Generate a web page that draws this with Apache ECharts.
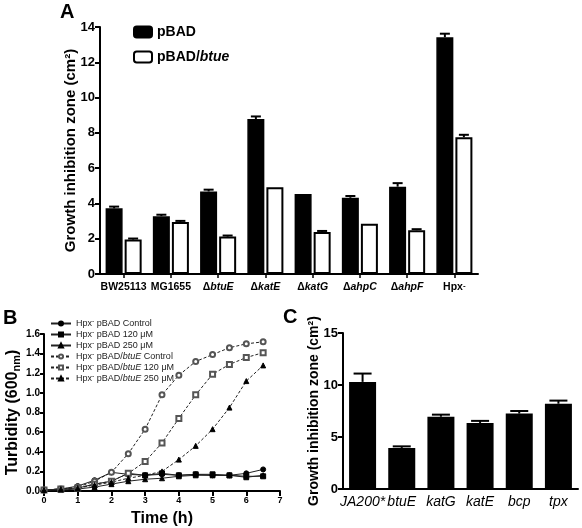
<!DOCTYPE html>
<html><head><meta charset="utf-8">
<script src="https://cdn.jsdelivr.net/npm/echarts@6/dist/echarts.min.js"></script>
<style>html,body{margin:0;padding:0;background:#fff}#c{width:582px;height:528px}</style>
</head><body><div id="c"></div>
<script>
// Panel A data
const catsA = ['BW25113','MG1655','ΔbtuE','ΔkatE','ΔkatG','ΔahpC','ΔahpF','Hpx-'];
const pBAD = [3.72, 3.28, 4.68, 8.78, 4.53, 4.32, 4.95, 13.42];
const pBADerr = [0.1, 0.08, 0.1, 0.15, 0, 0.1, 0.2, 0.2];
const pBADbtue = [1.95, 2.95, 2.12, 4.92, 2.38, 2.85, 2.48, 7.75];
const pBADbtueErr = [0.06, 0.06, 0.06, 0, 0.06, 0, 0.06, 0.14];
const ticksA = [0,2,4,6,8,10,12,14];
// Panel B data
const timeB = [0,0.5,1,1.5,2,2.5,3,3.5,4,4.5,5,5.5,6,6.5];
const ctrl = [0.01,0.02,0.05,0.11,0.19,0.17,0.16,0.17,0.16,0.17,0.16,0.16,0.18,0.22];
const c120 = [0.01,0.02,0.03,0.07,0.10,0.18,0.16,0.18,0.16,0.17,0.17,0.16,0.15,0.15];
const c250 = [0.01,0.01,0.02,0.04,0.07,0.10,0.12,0.13,0.15,0.16,0.16,0.16,0.14,0.16];
const bCtrl = [0.01,0.02,0.04,0.10,0.19,0.38,0.63,0.98,1.18,1.32,1.39,1.46,1.50,1.52];
const b120 = [0.01,0.02,0.03,0.07,0.10,0.18,0.30,0.49,0.74,0.98,1.19,1.29,1.36,1.41];
const b250 = [0.01,0.02,0.03,0.06,0.09,0.13,0.16,0.20,0.32,0.46,0.63,0.85,1.12,1.28];
const namesB = ['Hpx⁻ pBAD Control','Hpx⁻ pBAD 120 μM','Hpx⁻ pBAD 250 μM','Hpx⁻ pBAD/btuE Control','Hpx⁻ pBAD/btuE 120 μM','Hpx⁻ pBAD/btuE 250 μM'];
// Panel C data
const catsC = ['JA200*','btuE','katG','katE','bcp','tpx'];
const valsC = [10.3, 3.95, 6.95, 6.35, 7.25, 8.2];
const errC = [0.8, 0.15, 0.2, 0.2, 0.25, 0.3];

const F = 'Liberation Sans, Arial, sans-serif';
const chart = echarts.init(document.getElementById('c'));

const BW_A = 17, GAP_A = 2, BW_C = 27;
function errItem(offset, cap) {
  return function(params, api) {
    const x = api.value(0), y = api.value(1), e = api.value(2);
    if (!e) return null;
    const p = api.coord([x, y]);
    const t = api.coord([x, y + e]);
    const cx = p[0] + offset;
    return {type:'group', children:[
      {type:'line', shape:{x1:cx, y1:p[1], x2:cx, y2:t[1]}, style:{stroke:'#000', lineWidth:2}},
      {type:'line', shape:{x1:cx-cap/2, y1:t[1], x2:cx+cap/2, y2:t[1]}, style:{stroke:'#000', lineWidth:2}}
    ]};
  };
}

function labA(v) {
  if (v.charAt(0) === 'Δ') return '{n|Δ}{i|' + v.slice(1) + '}';
  if (v === 'Hpx-') return '{n|Hpx}{s|-}';
  return '{n|' + v + '}';
}

const axisLine = {lineStyle:{color:'#000', width:2}};
const axisTick = {lineStyle:{color:'#000', width:2}, length:5};

const symB = ['circle','rect','triangle','emptyCircle','emptyRect','triangle'];
const dataB = [ctrl, c120, c250, bCtrl, b120, b250];

const seriesB = namesB.map((n, k) => ({
  name: n, type:'line', xAxisIndex:1, yAxisIndex:1,
  data: timeB.map((t, i) => [t, dataB[k][i]]),
  symbol: symB[k], symbolSize: 5,
  itemStyle: {color: k >= 3 && k < 5 ? '#555' : '#000', borderColor: k >= 3 && k < 5 ? '#555' : '#000', borderWidth: 1},
  lineStyle: {color:'#222', width:1, type: k >= 3 ? [3,2] : 'solid'},
  z: 3
}));

const option = {
  animation: false,
  textStyle: {fontFamily: F},
  graphic: [
    {type:'text', left:60, top:2, style:{text:'A', font:'bold 20px ' + F, fill:'#000'}},
    {type:'text', left:3, top:308, style:{text:'B', font:'bold 20px ' + F, fill:'#000'}},
    {type:'text', left:283, top:307, style:{text:'C', font:'bold 20px ' + F, fill:'#000'}}
  ],
  legend: [
    {left:128, top:20, orient:'vertical', itemWidth:18, itemHeight:11, itemGap:11,
     data:['pBAD','pBAD/btue'],
     formatter: n => n === 'pBAD' ? '{n|pBAD}' : '{n|pBAD/}{i|btue}',
     textStyle:{rich:{n:{fontFamily:F, fontWeight:'bold', fontSize:14, color:'#000'}, i:{fontFamily:F, fontWeight:'bold', fontStyle:'italic', fontSize:14, color:'#000'}}}},
    {left:45, top:313, orient:'vertical', itemWidth:20, itemHeight:5, itemGap:1,
     data: namesB,
     formatter: n => {
       const m = n.replace('Hpx⁻', '');
       if (m.indexOf('btuE') >= 0) {
         const parts = m.split('btuE');
         return '{n|Hpx}{s|-}{n|' + parts[0] + '}{i|btuE}{n|' + parts[1] + '}';
       }
       return '{n|Hpx}{s|-}{n|' + m + '}';
     },
     textStyle:{rich:{n:{fontFamily:F, fontSize:9, color:'#222', lineHeight:11}, i:{fontFamily:F, fontStyle:'italic', fontSize:9, color:'#222', lineHeight:11}, s:{fontFamily:F, fontSize:7, color:'#222', verticalAlign:'top', lineHeight:11}}}}
  ],
  grid: [
    {left:100, top:27, width:378, height:247},
    {left:44, top:334, width:236, height:157},
    {left:343, top:333, width:235, height:156}
  ],
  xAxis: [
    {type:'category', gridIndex:0, data:catsA, axisLine:axisLine,
     axisTick:{show:true, alignWithLabel:true, length:4, lineStyle:{color:'#000', width:1.5}},
     axisLabel:{margin:8, interval:0, formatter: labA, rich:{
       n:{fontFamily:F, fontWeight:'bold', fontSize:10.5, color:'#000'},
       i:{fontFamily:F, fontWeight:'bold', fontStyle:'italic', fontSize:10.5, color:'#000'},
       s:{fontFamily:F, fontWeight:'bold', fontSize:8, color:'#000', verticalAlign:'top'}}}},
    {type:'value', gridIndex:1, min:0, max:7, interval:1, axisLine:axisLine, axisTick:axisTick,
     splitLine:{show:false}, axisLabel:{fontFamily:F, fontWeight:'bold', fontSize:9, color:'#000', margin:5},
     name:'Time (h)', nameLocation:'middle', nameGap:20, nameMoveOverlap:false,
     nameTextStyle:{fontFamily:F, fontWeight:'bold', fontSize:16, color:'#000', verticalAlign:'top'}},
    {type:'category', gridIndex:2, data:catsC, axisLine:axisLine, axisTick:{show:false},
     axisLabel:{fontFamily:F, fontStyle:'italic', fontSize:14, color:'#000', margin:6, interval:0}}
  ],
  yAxis: [
    {type:'value', gridIndex:0, min:0, max:14, interval:2, axisLine:{show:true, lineStyle:{color:'#000', width:2}},
     axisTick:{show:true, lineStyle:{color:'#000', width:2}, length:5}, splitLine:{show:false},
     axisLabel:{fontFamily:F, fontWeight:'bold', fontSize:13, color:'#000', margin:5},
     name:'Growth inhibition zone (cm²)', nameLocation:'middle', nameGap:22, nameMoveOverlap:false,
     nameTextStyle:{fontFamily:F, fontWeight:'bold', fontSize:15, color:'#000', verticalAlign:'bottom'}},
    {type:'value', gridIndex:1, min:0, max:1.6, interval:0.2, axisLine:{show:true, lineStyle:{color:'#000', width:2}},
     axisTick:{show:true, lineStyle:{color:'#000', width:2}, length:4}, splitLine:{show:false},
     axisLabel:{fontFamily:F, fontWeight:'bold', fontSize:10, color:'#000', margin:4, formatter: v => v.toFixed(1)},
     name:'{a|Turbidity (600}{s|nm}{a|)}', nameLocation:'middle', nameGap:22, nameMoveOverlap:false,
     nameTextStyle:{verticalAlign:'bottom', rich:{a:{fontFamily:F, fontWeight:'bold', fontSize:16, color:'#000'}, s:{fontFamily:F, fontWeight:'bold', fontSize:11, color:'#000', verticalAlign:'bottom', padding:[8,0,0,0]}}}},
    {type:'value', gridIndex:2, min:0, max:15, interval:5, axisLine:{show:true, lineStyle:{color:'#000', width:2}},
     axisTick:{show:true, lineStyle:{color:'#000', width:2}, length:5}, splitLine:{show:false},
     axisLabel:{fontFamily:F, fontWeight:'bold', fontSize:13, color:'#000', margin:5},
     name:'Growth inhibition zone (cm²)', nameLocation:'middle', nameGap:22, nameMoveOverlap:false,
     nameTextStyle:{fontFamily:F, fontWeight:'bold', fontSize:14, color:'#000', verticalAlign:'bottom'}}
  ],
  series: [
    {name:'pBAD', type:'bar', xAxisIndex:0, yAxisIndex:0, data:pBAD, barWidth:BW_A, barGap:'12%',
     itemStyle:{color:'#000', borderColor:'#000', borderWidth:1.5}},
    {name:'pBAD/btue', type:'bar', xAxisIndex:0, yAxisIndex:0, data:pBADbtue, barWidth:BW_A, barGap:'12%',
     itemStyle:{color:'#fff', borderColor:'#000', borderWidth:2}},
    {type:'custom', xAxisIndex:0, yAxisIndex:0, z:1,
     renderItem: errItem(-(BW_A/2 + GAP_A/2), 10),
     data: pBAD.map((v, i) => [i, v, pBADerr[i]])},
    {type:'custom', xAxisIndex:0, yAxisIndex:0, z:1,
     renderItem: errItem(BW_A/2 + GAP_A/2, 10),
     data: pBADbtue.map((v, i) => [i, v, pBADbtueErr[i]])},
    ...seriesB,
    {type:'bar', xAxisIndex:2, yAxisIndex:2, data:valsC, barWidth:BW_C,
     itemStyle:{color:'#000'}},
    {type:'custom', xAxisIndex:2, yAxisIndex:2, z:1,
     renderItem: errItem(0, 18),
     data: valsC.map((v, i) => [i, v, errC[i]])}
  ]
};
chart.setOption(option);
</script>
</body></html>
